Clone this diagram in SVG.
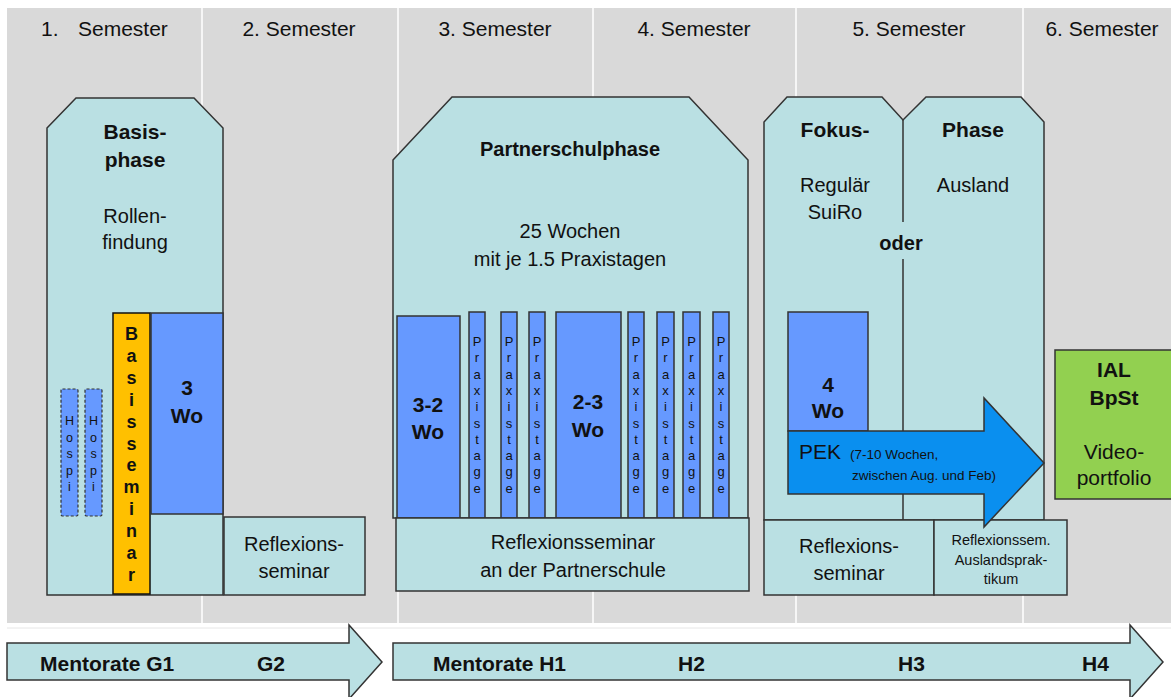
<svg xmlns="http://www.w3.org/2000/svg" width="1171" height="697" viewBox="0 0 1171 697">
<defs>
<style>
text{font-family:"Liberation Sans",Arial,sans-serif;fill:#111;}
.t20{font-size:20px;text-anchor:middle;}
.t21{font-size:21px;text-anchor:middle;}
.b21{font-size:21px;font-weight:bold;text-anchor:middle;}
.b20{font-size:20px;font-weight:bold;text-anchor:middle;}
.hdr{font-size:21px;text-anchor:middle;}
.sm{font-size:14.5px;text-anchor:middle;}
.vl{font-size:13px;text-anchor:middle;}
.vh{font-size:12.5px;text-anchor:middle;}
.vb{font-size:18px;font-weight:bold;text-anchor:middle;}
.bot{font-size:21px;font-weight:bold;}
.cy{fill:#BAE0E3;stroke:#333;stroke-width:1.5;}
.bl{fill:#6699FF;stroke:#333;stroke-width:1.5;}
.hs{fill:#6699FF;stroke:#333;stroke-width:1.2;stroke-dasharray:3 2;}
.sep{stroke:#FFFFFF;stroke-width:1.5;}
</style>
</defs>
<rect width="1171" height="697" fill="#FFFFFF"/>
<g id="background">
<rect x="7" y="8" width="1164" height="615" fill="#D9D9D9"/>
<line class="sep" x1="202" y1="8" x2="202" y2="623"/>
<line class="sep" x1="398" y1="8" x2="398" y2="623"/>
<line class="sep" x1="593" y1="8" x2="593" y2="623"/>
<line class="sep" x1="796" y1="8" x2="796" y2="623"/>
<line class="sep" x1="1023" y1="8" x2="1023" y2="623"/>
<line x1="7" y1="628" x2="1171" y2="628" stroke="#E6E6E6" stroke-width="1"/>
<text class="hdr" x="41" y="36" style="text-anchor:start">1.<tspan x="78">Semester</tspan></text>
<text class="hdr" x="299" y="36">2. Semester</text>
<text class="hdr" x="495" y="36">3. Semester</text>
<text class="hdr" x="694" y="36">4. Semester</text>
<text class="hdr" x="909" y="36">5. Semester</text>
<text class="hdr" x="1102" y="36">6. Semester</text>
</g>
<g id="basisphase">
<polygon class="cy" points="47,128 76,98 194,98 223,128 223,595 47,595"/>
<text class="b21" x="135" y="139">Basis-</text>
<text class="b21" x="135" y="167">phase</text>
<text class="t20" x="135" y="223">Rollen-</text>
<text class="t20" x="135" y="249">findung</text>
</g>
<g id="hospi1">
<rect class="hs" x="61" y="389" width="17" height="127" rx="1.5"/>
<text class="vh" x="69.5" y="425">H<tspan x="69.5" dy="16.5">o</tspan><tspan x="69.5" dy="16.5">s</tspan><tspan x="69.5" dy="16.5">p</tspan><tspan x="69.5" dy="16.5">i</tspan></text>
</g>
<g id="hospi2">
<rect class="hs" x="85" y="389" width="17" height="127" rx="1.5"/>
<text class="vh" x="93.5" y="425">H<tspan x="93.5" dy="16.5">o</tspan><tspan x="93.5" dy="16.5">s</tspan><tspan x="93.5" dy="16.5">p</tspan><tspan x="93.5" dy="16.5">i</tspan></text>
</g>
<g id="basisseminar">
<rect x="113" y="313" width="37" height="281" fill="#FFC000" stroke="#111" stroke-width="1.5"/>
<text class="vb" x="131.5" y="340">B<tspan x="131.5" dy="21.9">a</tspan><tspan x="131.5" dy="21.9">s</tspan><tspan x="131.5" dy="21.9">i</tspan><tspan x="131.5" dy="21.9">s</tspan><tspan x="131.5" dy="21.9">s</tspan><tspan x="131.5" dy="21.9">e</tspan><tspan x="131.5" dy="21.9">m</tspan><tspan x="131.5" dy="21.9">i</tspan><tspan x="131.5" dy="21.9">n</tspan><tspan x="131.5" dy="21.9">a</tspan><tspan x="131.5" dy="21.9">r</tspan></text>
</g>
<g id="wo3">
<rect class="bl" x="151" y="313" width="72" height="201"/>
<text class="b21" x="187" y="395">3</text>
<text class="b21" x="187" y="423">Wo</text>
</g>
<g id="reflexion2">
<rect class="cy" x="224" y="517" width="141" height="78"/>
<text class="t20" x="294" y="551">Reflexions-</text>
<text class="t20" x="294" y="578">seminar</text>
</g>
<g id="partnerschulphase">
<polygon class="cy" points="393,160 452,97 689,97 748,160 748,518 393,518"/>
<text class="b20" x="570" y="156">Partnerschulphase</text>
<text class="t20" x="570" y="238">25 Wochen</text>
<text class="t20" x="570" y="266">mit je 1.5 Praxistagen</text>
</g>
<g id="wo32">
<rect class="bl" x="397" y="316" width="63" height="202"/>
<text class="b21" x="428" y="412">3-2</text>
<text class="b21" x="428" y="439">Wo</text>
</g>
<g id="wo23">
<rect class="bl" x="556" y="312" width="65" height="206"/>
<text class="b21" x="588" y="409">2-3</text>
<text class="b21" x="588" y="437">Wo</text>
</g>
<g id="praxistage1"><rect class="bl" x="469" y="312" width="16" height="206"/><text class="vl" x="477" y="346">P<tspan x="477" dy="16.3">r</tspan><tspan x="477" dy="16.3">a</tspan><tspan x="477" dy="16.3">x</tspan><tspan x="477" dy="16.3">i</tspan><tspan x="477" dy="16.3">s</tspan><tspan x="477" dy="16.3">t</tspan><tspan x="477" dy="16.3">a</tspan><tspan x="477" dy="16.3">g</tspan><tspan x="477" dy="16.3">e</tspan></text></g>
<g id="praxistage2"><rect class="bl" x="501" y="312" width="16" height="206"/><text class="vl" x="509" y="346">P<tspan x="509" dy="16.3">r</tspan><tspan x="509" dy="16.3">a</tspan><tspan x="509" dy="16.3">x</tspan><tspan x="509" dy="16.3">i</tspan><tspan x="509" dy="16.3">s</tspan><tspan x="509" dy="16.3">t</tspan><tspan x="509" dy="16.3">a</tspan><tspan x="509" dy="16.3">g</tspan><tspan x="509" dy="16.3">e</tspan></text></g>
<g id="praxistage3"><rect class="bl" x="529" y="312" width="16" height="206"/><text class="vl" x="537" y="346">P<tspan x="537" dy="16.3">r</tspan><tspan x="537" dy="16.3">a</tspan><tspan x="537" dy="16.3">x</tspan><tspan x="537" dy="16.3">i</tspan><tspan x="537" dy="16.3">s</tspan><tspan x="537" dy="16.3">t</tspan><tspan x="537" dy="16.3">a</tspan><tspan x="537" dy="16.3">g</tspan><tspan x="537" dy="16.3">e</tspan></text></g>
<g id="praxistage4"><rect class="bl" x="628" y="312" width="16" height="206"/><text class="vl" x="636" y="346">P<tspan x="636" dy="16.3">r</tspan><tspan x="636" dy="16.3">a</tspan><tspan x="636" dy="16.3">x</tspan><tspan x="636" dy="16.3">i</tspan><tspan x="636" dy="16.3">s</tspan><tspan x="636" dy="16.3">t</tspan><tspan x="636" dy="16.3">a</tspan><tspan x="636" dy="16.3">g</tspan><tspan x="636" dy="16.3">e</tspan></text></g>
<g id="praxistage5"><rect class="bl" x="657" y="312" width="17" height="206"/><text class="vl" x="665.5" y="346">P<tspan x="665.5" dy="16.3">r</tspan><tspan x="665.5" dy="16.3">a</tspan><tspan x="665.5" dy="16.3">x</tspan><tspan x="665.5" dy="16.3">i</tspan><tspan x="665.5" dy="16.3">s</tspan><tspan x="665.5" dy="16.3">t</tspan><tspan x="665.5" dy="16.3">a</tspan><tspan x="665.5" dy="16.3">g</tspan><tspan x="665.5" dy="16.3">e</tspan></text></g>
<g id="praxistage6"><rect class="bl" x="683" y="312" width="17" height="206"/><text class="vl" x="691.5" y="346">P<tspan x="691.5" dy="16.3">r</tspan><tspan x="691.5" dy="16.3">a</tspan><tspan x="691.5" dy="16.3">x</tspan><tspan x="691.5" dy="16.3">i</tspan><tspan x="691.5" dy="16.3">s</tspan><tspan x="691.5" dy="16.3">t</tspan><tspan x="691.5" dy="16.3">a</tspan><tspan x="691.5" dy="16.3">g</tspan><tspan x="691.5" dy="16.3">e</tspan></text></g>
<g id="praxistage7"><rect class="bl" x="713" y="312" width="16" height="206"/><text class="vl" x="721" y="346">P<tspan x="721" dy="16.3">r</tspan><tspan x="721" dy="16.3">a</tspan><tspan x="721" dy="16.3">x</tspan><tspan x="721" dy="16.3">i</tspan><tspan x="721" dy="16.3">s</tspan><tspan x="721" dy="16.3">t</tspan><tspan x="721" dy="16.3">a</tspan><tspan x="721" dy="16.3">g</tspan><tspan x="721" dy="16.3">e</tspan></text></g>
<g id="reflexion-partnerschule">
<rect class="cy" x="396" y="518" width="353" height="73"/>
<text class="t20" x="573" y="549">Reflexionsseminar</text>
<text class="t20" x="573" y="577">an der Partnerschule</text>
</g>
<g id="fokusphase">
<path d="M764,520 V122 L787,97 H882 L903,120 L926,97 H1021 L1044,122 V520 Z" fill="#BAE0E3" stroke="#333" stroke-width="1.5"/>
<path d="M903,120 V222 M903,259 V520" fill="none" stroke="#333" stroke-width="1.5"/>
<text class="b21" x="835" y="137">Fokus-</text>
<text class="b21" x="973" y="137">Phase</text>
<text class="t20" x="835" y="192">Regulär</text>
<text class="t20" x="835" y="219">SuiRo</text>
<text class="t20" x="973" y="192">Ausland</text>
<text class="b20" x="901" y="250">oder</text>
</g>
<g id="wo4">
<rect class="bl" x="788" y="312" width="80" height="119"/>
<text class="b21" x="828" y="392">4</text>
<text class="b21" x="828" y="418">Wo</text>
</g>
<g id="reflexion5">
<rect class="cy" x="764" y="520" width="170" height="75"/>
<text class="t20" x="849" y="553">Reflexions-</text>
<text class="t20" x="849" y="580">seminar</text>
</g>
<g id="reflexion-ausland">
<rect class="cy" x="934" y="520" width="133" height="75"/>
<text class="sm" x="1001" y="545">Reflexionssem.</text>
<text class="sm" x="1001" y="565">Auslandsprak-</text>
<text class="sm" x="1001" y="584">tikum</text>
</g>
<g id="pek">
<polygon points="788,431 984,431 984,398 1044,463 984,527 984,494 788,494" fill="#0A8FEF" stroke="#333" stroke-width="1.5"/>
<text x="799" y="459" style="font-size:21px">PEK</text>
<text x="850" y="459" style="font-size:13.5px">(7-10 Wochen,</text>
<text x="852" y="480" style="font-size:13.5px">zwischen Aug. und Feb)</text>
</g>
<g id="ial">
<rect x="1055" y="350" width="120" height="149" fill="#92D050" stroke="#333" stroke-width="1.5"/>
<text class="b21" x="1114" y="377">IAL</text>
<text class="b21" x="1114" y="405">BpSt</text>
<text class="t21" x="1114" y="459">Video-</text>
<text class="t21" x="1114" y="485">portfolio</text>
</g>
<g id="mentorate-g">
<polygon points="7,643 349,643 349,625 382,662 349,699 349,680 7,680" fill="#BAE0E3" stroke="#333" stroke-width="1.5"/>
<text class="bot" x="40" y="671">Mentorate G1</text>
<text class="bot" x="257" y="671">G2</text>
</g>
<g id="mentorate-h">
<polygon points="393,643 1130,643 1130,625 1163,662 1130,699 1130,680 393,680" fill="#BAE0E3" stroke="#333" stroke-width="1.5"/>
<text class="bot" x="433" y="671">Mentorate H1</text>
<text class="bot" x="678" y="671">H2</text>
<text class="bot" x="898" y="671">H3</text>
<text class="bot" x="1082" y="671">H4</text>
</g>
<g id="connectors"/>
</svg>
